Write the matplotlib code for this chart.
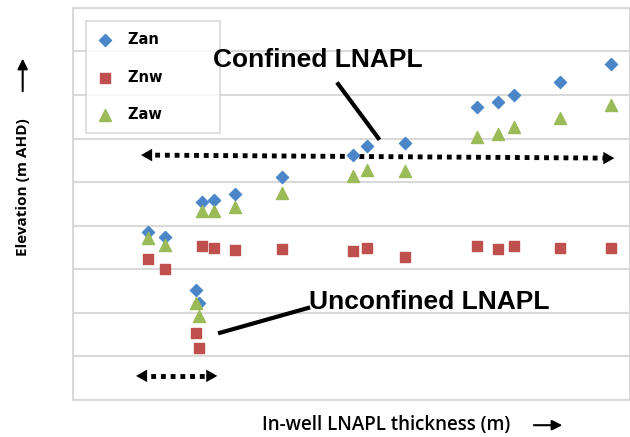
import matplotlib.pyplot as plt
from matplotlib.patches import FancyArrowPatch

# Data (arbitrary units: x in 0..10, y in 0..9 grid steps)
thickness = [1.35, 1.65, 2.21, 2.26, 2.32, 2.53, 2.91, 3.75, 5.03, 5.28,
             5.96, 7.25, 7.63, 7.92, 8.74, 9.66]
zan = [3.86, 3.74, 2.53, 2.23, 4.55, 4.59, 4.73, 5.12, 5.62, 5.83,
       5.90, 6.73, 6.84, 7.00, 7.30, 7.71]
znw = [3.24, 3.01, 1.54, 1.19, 3.54, 3.49, 3.44, 3.47, 3.42, 3.49,
       3.28, 3.54, 3.47, 3.54, 3.49, 3.49]
zaw = [3.72, 3.56, 2.23, 1.93, 4.34, 4.34, 4.43, 4.75, 5.14, 5.28,
       5.26, 6.04, 6.11, 6.27, 6.47, 6.77]

fig = plt.figure(figsize=(6.3, 4.37), dpi=100)
ax = fig.add_axes([0.116, 0.085, 0.884, 0.897])

ax.scatter(thickness, zan, marker='D', s=38, color='#4a86c8', label='Zan         ', zorder=3)
ax.scatter(thickness, znw, marker='s', s=62, color='#c0504d', label='Znw         ', zorder=3)
ax.scatter(thickness, zaw, marker='^', s=75, color='#9bbb59', label='Zaw         ', zorder=3)

ax.set_xlim(0, 10)
ax.set_ylim(0, 9)
ax.set_yticks(range(10))
ax.set_xticks([])
ax.tick_params(left=False, labelleft=False)
ax.grid(axis='y', color='#d9d9d9', lw=1.5)
ax.set_axisbelow(True)
for s in ax.spines.values():
    s.set_color('#d9d9d9')
    s.set_linewidth(1.5)

leg = ax.legend(loc='upper left', bbox_to_anchor=(0.011, 0.985), frameon=True,
                fancybox=False, edgecolor='#d0d0d0', labelspacing=1.55,
                handlelength=1.0, handletextpad=1.1, borderpad=0.75,
                prop={'weight': 'bold', 'size': 10.5})
leg.get_frame().set_linewidth(1.2)

head = '-|>,head_length=0.8,head_width=0.45'

# Confined annotation
ax.text(4.40, 7.81, 'Confined LNAPL', ha='center', va='center', fontsize=19,
        fontweight='bold', family='Liberation Sans', zorder=6)
ax.plot([4.76, 5.48], [7.25, 6.01], color='black', lw=3)
ax.plot([1.30, 9.60], [5.62, 5.55], color='black', lw=3.5, ls=(0, (1, 1)))
ax.annotate('', xy=(1.17, 5.62), xytext=(1.45, 5.62),
            arrowprops=dict(arrowstyle=head, color='black', lw=0))
ax.annotate('', xy=(9.77, 5.55), xytext=(9.49, 5.55),
            arrowprops=dict(arrowstyle=head, color='black', lw=0))

# Unconfined annotation
ax.text(6.39, 2.25, 'Unconfined LNAPL', ha='center', va='center', fontsize=19,
        fontweight='bold', family='Liberation Sans', zorder=6)
ax.plot([2.64, 4.22], [1.54, 2.11], color='black', lw=3)
ax.plot([1.22, 2.50], [0.55, 0.55], color='black', lw=3.5, ls=(0, (1, 1)))
ax.annotate('', xy=(1.08, 0.55), xytext=(1.36, 0.55),
            arrowprops=dict(arrowstyle=head, color='black', lw=0))
ax.annotate('', xy=(2.64, 0.55), xytext=(2.36, 0.55),
            arrowprops=dict(arrowstyle=head, color='black', lw=0))

# Axis labels with arrows
fig.text(0.036, 0.572, 'Elevation (m AHD)', rotation=90, ha='center', va='center',
         fontsize=11, fontweight='bold', family='Open Sans')
fig.text(0.613, 0.027, 'In-well LNAPL thickness (m)', ha='center', va='center',
         fontsize=13.5, fontweight='semibold', family='Open Sans')
fig.add_artist(FancyArrowPatch(
    (0.036, 0.785), (0.036, 0.872), transform=fig.transFigure,
    arrowstyle='-|>,head_length=6,head_width=3', color='black', lw=1.5))
fig.add_artist(FancyArrowPatch(
    (0.843, 0.027), (0.897, 0.027), transform=fig.transFigure,
    arrowstyle='-|>,head_length=6,head_width=3', color='black', lw=1.5))

fig.savefig('out.png', dpi=100)
